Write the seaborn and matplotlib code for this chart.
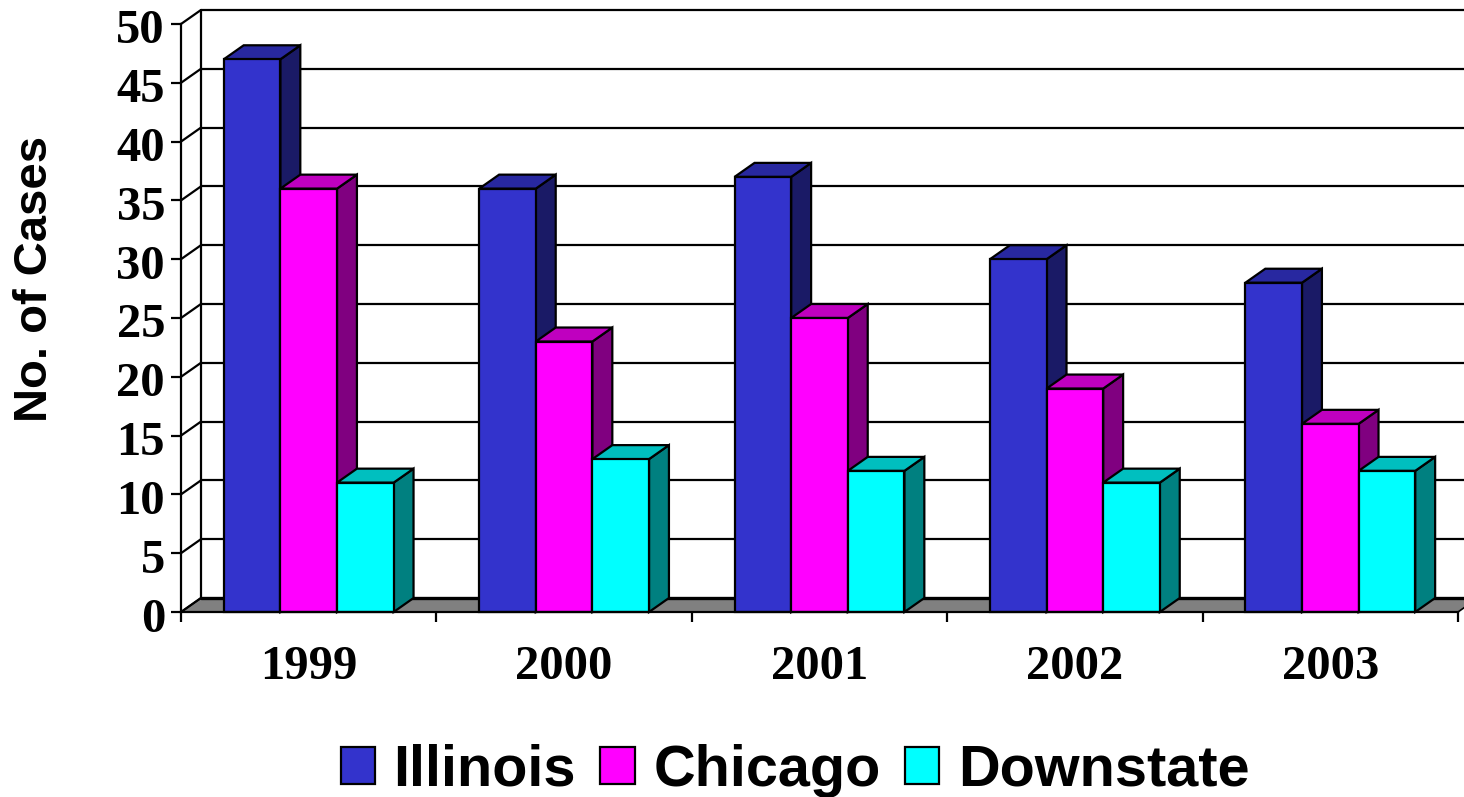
import matplotlib
matplotlib.use('Agg')
import matplotlib.pyplot as plt
from matplotlib.patches import Polygon
from matplotlib.transforms import ScaledTranslation
import pandas as pd
import seaborn as sns

years = ['1999', '2000', '2001', '2002', '2003']
illinois = [47, 36, 37, 30, 28]
chicago = [36, 23, 25, 19, 16]
downstate = [11, 13, 12, 11, 12]
y_ticks = [0, 5, 10, 15, 20, 25, 30, 35, 40, 45, 50]

front_colors = ['#3333CC', '#FF00FF', '#00FFFF']
top_colors = ['#2828A0', '#BF00BF', '#00BFBF']
side_colors = ['#1A1A66', '#800080', '#008080']
regions = ['Illinois', 'Chicago', 'Downstate']

# fake 3d depth, in data units (about 20px right, 14px up)
DX = 0.078
DY = 1.19
LW = 1.6

sns.set_theme(style='white')
plt.rcParams['font.family'] = ['Liberation Serif', 'DejaVu Serif']

df = pd.DataFrame({
    'Year': years * 3,
    'Cases': illinois + chicago + downstate,
    'Region': [r for r in regions for _ in years],
})

fig = plt.figure(figsize=(14.64, 7.97), dpi=100)
ax = fig.add_axes([181 / 1464, (797 - 612) / 797, 1277 / 1464, 588 / 797])

sns.barplot(data=df, x='Year', y='Cases', hue='Region', palette=front_colors,
            width=0.665, gap=0, saturation=1, edgecolor='black', linewidth=LW, ax=ax,
            err_kws={'linewidth': 0})

ax.set_xlim(-0.5, 4.5)
ax.set_ylim(0, 50)

# floor and back wall
x0, x1 = ax.get_xlim()
ax.add_patch(Polygon([(x0, 0), (x0 + DX, DY), (x1 + DX, DY), (x1, 0)], closed=True,
                     facecolor='#808080', edgecolor='black', linewidth=1.2,
                     clip_on=False, zorder=1))
for v in y_ticks:
    lw = 2.4 if v == 0 else LW
    ax.plot([x0 + DX, x1 + DX], [v + DY, v + DY], color='black', lw=lw,
            clip_on=False, zorder=1.5)
    ax.plot([x0, x0 + DX], [v, v + DY], color='black', lw=LW,
            clip_on=False, zorder=1.5)
ax.plot([x0 + DX, x0 + DX], [DY, 50 + DY], color='black', lw=LW,
        clip_on=False, zorder=1.5)

# side and top faces built from the bars seaborn drew, left to right
for s, container in enumerate(ax.containers):
    for c, bar in enumerate(container):
        xa, xb = bar.get_x(), bar.get_x() + bar.get_width()
        h = bar.get_height()
        z = 3 + c * 3 + s * 0.3
        ax.add_patch(Polygon([(xb, 0), (xb + DX, DY), (xb + DX, h + DY), (xb, h)], closed=True,
                             facecolor=side_colors[s], edgecolor='black',
                             linewidth=LW, zorder=z, clip_on=False))
        ax.add_patch(Polygon([(xa, h), (xa + DX, h + DY), (xb + DX, h + DY), (xb, h)], closed=True,
                             facecolor=top_colors[s], edgecolor='black',
                             linewidth=LW, zorder=z, clip_on=False))
        bar.set_zorder(z + 0.1)
        bar.set_clip_on(False)

ax.set_xticks(range(len(years)))
ax.set_xticklabels(years, fontweight='bold', fontsize=35, color='black')
ax.set_xticks([i - 0.5 for i in range(len(years) + 1)], minor=True)
ax.tick_params(axis='x', which='major', length=0, pad=24)
ax.tick_params(axis='x', which='minor', length=7.5, width=LW, color='black', bottom=True)
ax.set_yticks(y_ticks)
ax.set_yticklabels(y_ticks, fontweight='bold', fontsize=35, color='black')
ax.tick_params(axis='y', length=7.5, width=LW, color='black', pad=4, left=True)

# the numbers sit a little below their ticks
nudge = ScaledTranslation(0, -2.5 / 100, fig.dpi_scale_trans)
for label in ax.get_yticklabels():
    label.set_transform(label.get_transform() + nudge)

for side in ['top', 'right']:
    ax.spines[side].set_visible(False)
for side in ['left', 'bottom']:
    ax.spines[side].set_color('black')
    ax.spines[side].set_linewidth(LW)
    ax.spines[side].set_zorder(30)

ax.set_xlabel('')
ax.set_ylabel('')
fig.text(35 / 1464, 1 - 279 / 797, 'No. of Cases', rotation=90, ha='center', va='center',
         fontsize=34, fontweight='bold', family='Liberation Sans', color='black')

handles, labels = ax.get_legend_handles_labels()
ax.legend(handles, labels, loc='center', bbox_to_anchor=(795 / 1464, 1 - 771 / 797),
          bbox_transform=fig.transFigure, ncol=3, frameon=False,
          prop={'family': 'Liberation Sans', 'weight': 'bold', 'size': 41.5},
          handlelength=0.6, handleheight=0.6, handletextpad=0.32, columnspacing=0.42,
          labelcolor='black')

fig.savefig('out.png', dpi=100)
